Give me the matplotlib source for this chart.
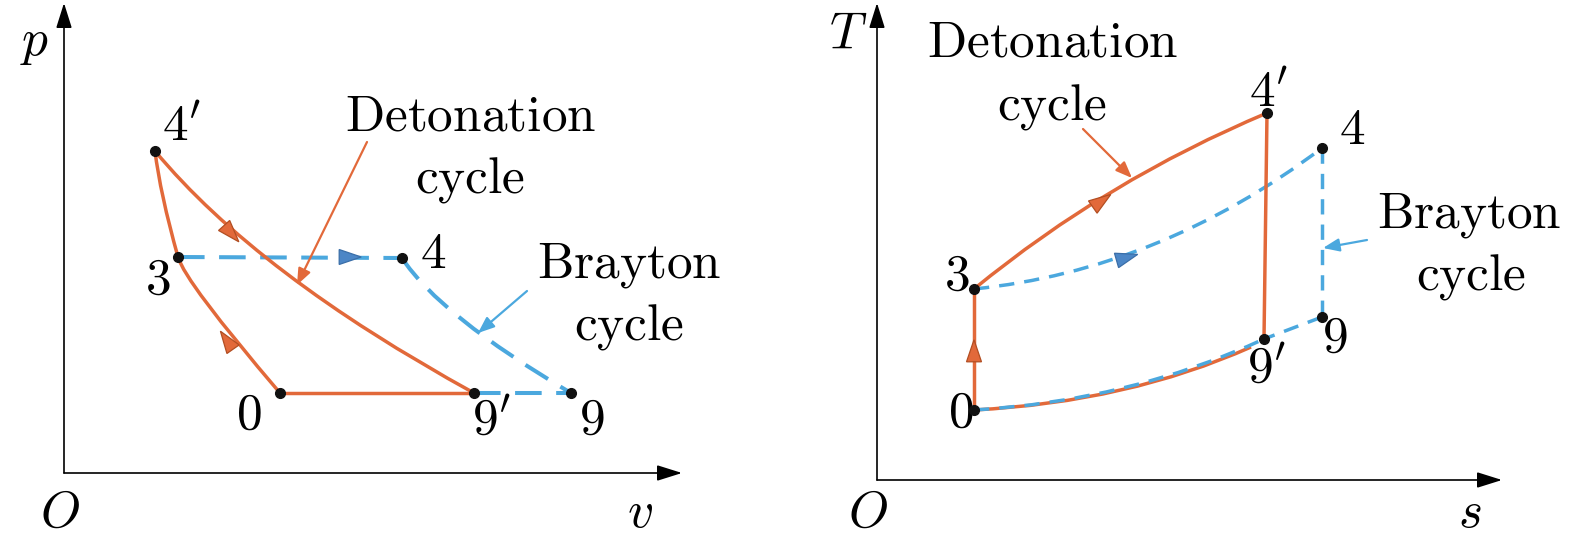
import matplotlib
matplotlib.use("Agg")
import matplotlib.pyplot as plt
from matplotlib.path import Path
from matplotlib.patches import PathPatch, Polygon
from matplotlib.transforms import Affine2D

plt.rcParams['mathtext.fontset'] = 'cm'

ORANGE = '#E2693A'
BLUE = '#4BA8DE'
TRI_BLUE = '#4C86C6'

# ---- p-v diagram (left), state points in diagram units
pv_pts = {
    "4'": (1.82, 6.44),
    "3": (2.28, 4.32),
    "4": (6.76, 4.30),
    "0": (4.32, 1.60),
    "9'": (8.20, 1.60),
    "9": (10.14, 1.60),
}
# quadratic bezier control points of the curved processes
pv_ctrl_4p_9p = (3.86, 3.98)
pv_ctrl_4p_3 = (1.92, 5.60)
pv_ctrl_3_0 = (2.42, 3.82)
pv_ctrl_4_9 = (7.50, 3.16)
# direction arrows: (x, y, angle)
pv_orange_arrows = [(3.32, 4.82, -48), (3.28, 2.62, 125)]
pv_blue_arrows = [(5.68, 4.32, 0)]
pv_labels = {
    "4'": (2.36, 6.92), "3": (1.88, 3.86), "4": (7.38, 4.38),
    "0": (3.70, 1.16), "9'": (8.56, 1.06), "9": (10.56, 1.06),
}
pv_axis = {"p": (-0.58, 8.62), "O": (-0.08, -0.80), "v": (11.52, -0.80)}
pv_axis_len = (12.36, 9.40)
pv_det_text = [(8.14, 6.86, "Detonation"), (8.12, 5.62, "cycle")]
pv_bray_text = [(11.30, 3.90, "Brayton"), (11.30, 2.66, "cycle")]
pv_det_arrow = ((6.06, 6.62), (4.66, 3.76))
pv_bray_arrow = ((9.26, 3.64), (8.28, 2.80))

# ---- T-s diagram (right)
ts_pts = {
    "4'": (7.80, 7.34),
    "4": (8.90, 6.64),
    "3": (1.94, 3.82),
    "9": (8.90, 3.26),
    "9'": (7.74, 2.82),
    "0": (1.94, 1.40),
}
ts_ctrl_3_4p = (4.60, 6.00)
ts_ctrl_3_4 = (5.66, 4.20)
ts_ctrl_0_9p = (5.02, 1.56)
ts_orange_bottom_end = (7.48, 2.66)
ts_blue_ctrl_0_9p = (5.06, 1.58)
ts_orange_arrows = [(1.94, 2.54, 90), (4.46, 5.56, 35)]
ts_blue_arrows = [(4.96, 4.44, 16)]
ts_labels = {
    "4'": (7.84, 7.74), "4": (9.50, 7.00), "3": (1.60, 4.08),
    "9": (9.16, 2.84), "9'": (7.80, 2.24), "0": (1.68, 1.34),
}
ts_axis = {"T": (-0.58, 8.90), "O": (-0.18, -0.66), "s": (11.86, -0.66)}
ts_axis_len = (12.50, 9.54)
ts_det_text = [(3.52, 8.46, "Detonation"), (3.50, 7.20, "cycle")]
ts_bray_text = [(11.84, 5.04, "Brayton"), (11.88, 3.80, "cycle")]
ts_det_arrow = ((4.12, 7.02), (5.10, 6.04))
ts_bray_arrow = ((9.80, 4.80), (8.92, 4.64))

FS = 37
LW = 2.5
TRI_SHAPE = [(0.6, 0.0), (-0.4, 0.34), (-0.4, -0.34)]
TRI_SIZE = 0.44


def bez(ax, p0, c, p1, color, ls='-', z=2, lw=LW):
    path = Path([p0, c, p1], [Path.MOVETO, Path.CURVE3, Path.CURVE3])
    ax.add_patch(PathPatch(path, fill=False, edgecolor=color, lw=lw,
                           linestyle=ls, zorder=z, capstyle='butt'))


def seg(ax, p0, p1, color, ls='-', z=2, lw=LW):
    ax.plot([p0[0], p1[0]], [p0[1], p1[1]], color=color, lw=lw,
            linestyle=ls, zorder=z, solid_capstyle='round', dash_capstyle='butt')


def tri(ax, arrows, face, edge):
    for x, y, ang in arrows:
        tr = Affine2D().scale(TRI_SIZE).rotate_deg(ang).translate(x, y) + ax.transData
        ax.add_patch(Polygon(TRI_SHAPE, closed=True, facecolor=face, edgecolor=edge,
                             lw=0.9, transform=tr, zorder=6))


def axes_arrows(ax, length, names):
    ap = dict(arrowstyle='-|>,head_length=0.7,head_width=0.22', color='k',
              lw=1.2, shrinkA=0, shrinkB=0, mutation_scale=22)
    ax.annotate('', xy=(length[0], 0), xytext=(0, 0), arrowprops=ap)
    ax.annotate('', xy=(0, length[1]), xytext=(0, 0), arrowprops=ap)
    for name, (x, y) in names.items():
        ax.text(x, y, '$%s$' % name, fontsize=FS, ha='center', va='center')


def words(ax, items):
    for x, y, s in items:
        ax.text(x, y, r'$\mathrm{%s}$' % s, fontsize=FS, ha='center', va='baseline')


def pointer(ax, ends, color):
    ax.annotate('', xy=ends[1], xytext=ends[0],
                arrowprops=dict(arrowstyle='-|>,head_length=0.7,head_width=0.28',
                                color=color, lw=1.6, shrinkA=0, shrinkB=0,
                                mutation_scale=14))


def dots_labels(ax, pts, labels):
    for k, (x, y) in pts.items():
        ax.plot(x, y, 'o', color='#111111', ms=7, zorder=8)
    for k, (x, y) in labels.items():
        ax.text(x, y, "$%s$" % k, fontsize=FS, ha='center', va='center')


fig = plt.figure(figsize=(15.75, 5.39), dpi=100)
ax1 = fig.add_axes([0, 0, 787 / 1575, 1])
ax2 = fig.add_axes([787 / 1575, 0, 788 / 1575, 1])
ax1.set_xlim(-1.28, 14.46)
ax1.set_ylim(-1.32, 9.46)
ax2.set_xlim(-1.80, 13.96)
ax2.set_ylim(-1.18, 9.60)
for a in (ax1, ax2):
    a.axis('off')

# left panel
P = pv_pts
dash_l = (0, (6.6, 3.6))
seg(ax1, P["3"], P["4"], BLUE, dash_l, z=2, lw=2.9)
bez(ax1, P["4"], pv_ctrl_4_9, P["9"], BLUE, dash_l, z=2, lw=2.9)
seg(ax1, P["9'"], P["9"], BLUE, dash_l, z=2, lw=2.9)
bez(ax1, P["4'"], pv_ctrl_4p_9p, P["9'"], ORANGE, z=3)
bez(ax1, P["4'"], pv_ctrl_4p_3, P["3"], ORANGE, z=3)
bez(ax1, P["3"], pv_ctrl_3_0, P["0"], ORANGE, z=3)
seg(ax1, P["0"], P["9'"], ORANGE, z=3)
tri(ax1, pv_orange_arrows, ORANGE, '#B24E22')
tri(ax1, pv_blue_arrows, TRI_BLUE, '#3A6EA8')
dots_labels(ax1, pv_pts, pv_labels)
axes_arrows(ax1, pv_axis_len, pv_axis)
words(ax1, pv_det_text)
words(ax1, pv_bray_text)
pointer(ax1, pv_det_arrow, ORANGE)
pointer(ax1, pv_bray_arrow, BLUE)

# right panel
Q = ts_pts
dash_r = (0, (4.4, 2.9))
bez(ax2, Q["3"], ts_ctrl_3_4, Q["4"], BLUE, dash_r, z=2)
seg(ax2, Q["4"], Q["9"], BLUE, dash_r, z=2)
seg(ax2, Q["9"], Q["9'"], BLUE, dash_r, z=2)
seg(ax2, Q["0"], Q["3"], ORANGE, z=3)
bez(ax2, Q["3"], ts_ctrl_3_4p, Q["4'"], ORANGE, z=3)
seg(ax2, Q["4'"], Q["9'"], ORANGE, z=3)
bez(ax2, Q["0"], ts_ctrl_0_9p, ts_orange_bottom_end, ORANGE, z=3)
bez(ax2, Q["0"], ts_blue_ctrl_0_9p, Q["9'"], BLUE, dash_r, z=4)
tri(ax2, ts_orange_arrows, ORANGE, '#B24E22')
tri(ax2, ts_blue_arrows, TRI_BLUE, '#3A6EA8')
dots_labels(ax2, ts_pts, ts_labels)
axes_arrows(ax2, ts_axis_len, ts_axis)
words(ax2, ts_det_text)
words(ax2, ts_bray_text)
pointer(ax2, ts_det_arrow, ORANGE)
pointer(ax2, ts_bray_arrow, BLUE)

fig.savefig("out.png", dpi=100)
print("saved out.png")
